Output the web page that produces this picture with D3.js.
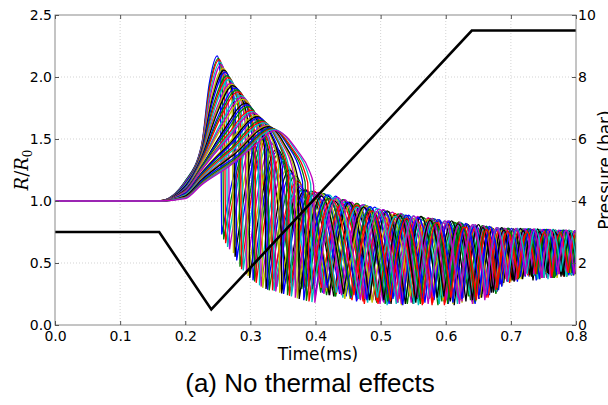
<!DOCTYPE html>
<html>
<head>
<meta charset="utf-8">
<script src="https://cdn.jsdelivr.net/npm/d3@7"></script>
<style>
  body { margin: 0; background: #fff; }
  svg { display: block; }
</style>
</head>
<body>
<svg id="chart"></svg>
<script>
// tick values
const xTicks = [0, 0.1, 0.2, 0.3, 0.4, 0.5, 0.6, 0.7, 0.8];
const radiusTicks = [0, 0.5, 1.0, 1.5, 2.0, 2.5];
const pressureTicks = [0, 2, 4, 6, 8, 10];

// matplotlib old colour cycle b g r c m y k
const lineColors = ['#0000ff', '#008000', '#ff0000', '#00bfbf', '#bf00bf', '#bfbf00', '#000000'];

// imposed pressure (bar) vs time (ms)
const pressure = [[0, 3], [0.16, 3], [0.24, 0.5], [0.64, 9.5], [0.8, 9.5]];

// R/R0 vs time (ms), one list per bubble (top of the hump first)
const radiusCurves = [
  [[0,1],[.16,1],[.2,1.16],[.225,1.45],[.237,1.95],[.249,2.17],[.2525,2.1],[.254,1.9],[.256,.73],[.296,1.48],[.336,.37],[.374,1.11],[.411,.26],[.443,1.01],[.475,.21],[.504,.93],[.532,.19],[.557,.87],[.582,.2],[.605,.84],[.627,.22],[.647,.80],[.667,.24],[.684,.78],[.70,.37],[.714,.775],[.728,.39],[.741,.77],[.753,.41],[.766,.765],[.778,.42],[.79,.76],[.803,.43]],
  [[0,1],[.16,1],[.2,1.16],[.225,1.44],[.238,1.94],[.251,2.15],[.255,2.08],[.257,1.88],[.259,.69],[.30,1.5],[.341,.35],[.379,1.09],[.417,.24],[.45,.99],[.483,.2],[.512,.915],[.541,.17],[.566,.865],[.592,.23],[.615,.825],[.638,.2],[.658,.79],[.679,.27],[.696,.775],[.713,.39],[.727,.77],[.742,.41],[.754,.765],[.767,.38],[.78,.76],[.793,.42],[.806,.755],[.819,.4]],
  [[0,1],[.16,1],[.2,1.15],[.225,1.44],[.238,1.92],[.252,2.14],[.257,2.07],[.26,1.86],[.262,.66],[.301,1.5],[.340,.33],[.377,1.08],[.413,.28],[.444,.97],[.475,.17],[.503,.90],[.53,.23],[.555,.85],[.579,.16],[.601,.815],[.623,.25],[.643,.785],[.662,.22],[.678,.76],[.694,.36],[.708,.755],[.721,.40],[.733,.75],[.745,.38],[.757,.745],[.769,.42],[.781,.74],[.793,.40],[.805,.74],[.817,.43]],
  [[0,1],[.16,1],[.2,1.15],[.225,1.43],[.239,1.90],[.2535,2.12],[.2595,2.045],[.263,1.84],[.265,.63],[.303,1.52],[.341,.31],[.377,1.08],[.412,.27],[.443,.99],[.473,.22],[.50,.91],[.527,.18],[.551,.86],[.575,.21],[.597,.825],[.618,.17],[.637,.795],[.656,.25],[.672,.77],[.687,.33],[.70,.765],[.714,.39],[.727,.755],[.741,.42],[.753,.75],[.765,.39],[.777,.745],[.789,.42],[.801,.74],[.813,.40]],
  [[0,1],[.16,1],[.2,1.15],[.225,1.42],[.24,1.88],[.255,2.10],[.2615,2.02],[.266,1.82],[.268,.61],[.309,1.53],[.350,.35],[.386,1.09],[.422,.24],[.455,.99],[.488,.20],[.518,.91],[.547,.18],[.573,.865],[.599,.21],[.622,.83],[.645,.19],[.662,.795],[.679,.27],[.696,.78],[.713,.38],[.728,.775],[.742,.41],[.755,.77],[.768,.40],[.781,.765],[.794,.43],[.807,.76],[.82,.42]],
  [[0,1],[.16,1],[.2,1.14],[.225,1.41],[.241,1.85],[.258,2.07],[.266,1.99],[.272,1.78],[.274,.58],[.312,1.54],[.350,.30],[.384,1.04],[.417,.27],[.448,.95],[.478,.22],[.505,.88],[.532,.16],[.556,.83],[.58,.24],[.602,.80],[.623,.2],[.642,.77],[.661,.3],[.677,.745],[.692,.37],[.706,.74],[.719,.39],[.733,.735],[.746,.41],[.758,.73],[.77,.40],[.782,.73],[.794,.43],[.806,.725],[.818,.41]],
  [[0,1],[.16,1],[.2,1.14],[.225,1.405],[.242,1.835],[.2595,2.055],[.268,1.975],[.2745,1.76],[.2765,.55],[.317,1.54],[.357,.33],[.392,1.06],[.428,.23],[.46,.96],[.493,.2],[.521,.885],[.55,.17],[.573,.845],[.596,.23],[.618,.815],[.641,.19],[.657,.785],[.674,.3],[.69,.765],[.707,.37],[.721,.76],[.735,.41],[.748,.755],[.761,.39],[.773,.75],[.786,.43],[.798,.745],[.811,.41]],
  [[0,1],[.16,1],[.2,1.14],[.225,1.40],[.243,1.82],[.261,2.04],[.27,1.96],[.277,1.74],[.279,.52],[.321,1.53],[.363,.32],[.4,1.07],[.437,.25],[.471,.965],[.504,.19],[.531,.89],[.557,.21],[.581,.85],[.604,.17],[.625,.81],[.646,.23],[.664,.79],[.681,.28],[.696,.775],[.71,.35],[.725,.77],[.739,.42],[.752,.765],[.765,.39],[.778,.76],[.791,.41],[.804,.755],[.817,.44]],
  [[0,1],[.16,1],[.2,1.13],[.225,1.39],[.244,1.79],[.264,2.01],[.274,1.93],[.282,1.71],[.284,.47],[.323,1.52],[.362,.34],[.397,1.06],[.431,.23],[.463,.96],[.494,.18],[.522,.88],[.55,.22],[.572,.845],[.594,.19],[.616,.81],[.638,.24],[.658,.785],[.677,.25],[.693,.765],[.709,.37],[.723,.755],[.736,.40],[.749,.755],[.761,.42],[.773,.75],[.786,.39],[.798,.745],[.811,.43]],
  [[0,1],[.16,1],[.2,1.13],[.225,1.38],[.245,1.775],[.2655,1.995],[.276,1.91],[.2845,1.69],[.2865,.45],[.325,1.5],[.364,.29],[.398,1.08],[.432,.25],[.463,.98],[.494,.19],[.522,.9],[.549,.22],[.574,.86],[.598,.16],[.62,.83],[.642,.22],[.658,.80],[.674,.28],[.69,.78],[.706,.38],[.72,.775],[.733,.40],[.745,.77],[.757,.43],[.769,.765],[.781,.39],[.793,.76],[.805,.42]],
  [[0,1],[.16,1],[.2,1.13],[.225,1.37],[.246,1.76],[.267,1.98],[.278,1.89],[.287,1.67],[.289,.44],[.33,1.48],[.371,.31],[.407,1.07],[.442,.22],[.475,.97],[.507,.2],[.533,.895],[.558,.16],[.581,.855],[.604,.22],[.625,.82],[.645,.18],[.662,.795],[.679,.29],[.696,.78],[.713,.38],[.728,.775],[.742,.40],[.755,.77],[.767,.43],[.78,.765],[.793,.41],[.806,.76],[.819,.44]],
  [[0,1],[.16,1],[.2,1.12],[.225,1.36],[.247,1.73],[.27,1.95],[.282,1.86],[.292,1.63],[.294,.41],[.333,1.46],[.371,.29],[.405,1.03],[.438,.26],[.469,.935],[.499,.17],[.527,.865],[.554,.21],[.576,.825],[.597,.24],[.619,.795],[.64,.19],[.656,.77],[.672,.31],[.688,.75],[.704,.36],[.718,.745],[.731,.41],[.743,.74],[.755,.38],[.767,.735],[.779,.42],[.791,.73],[.803,.40]],
  [[0,1],[.16,1],[.2,1.12],[.225,1.355],[.248,1.72],[.2715,1.94],[.284,1.85],[.2945,1.62],[.2965,.395],[.338,1.44],[.38,.31],[.416,1.02],[.453,.21],[.483,.93],[.512,.18],[.538,.86],[.564,.23],[.587,.825],[.611,.19],[.632,.79],[.653,.24],[.67,.765],[.687,.32],[.701,.755],[.716,.37],[.73,.75],[.745,.41],[.758,.745],[.771,.38],[.784,.74],[.797,.42],[.81,.74],[.823,.4]],
  [[0,1],[.16,1],[.2,1.12],[.225,1.35],[.249,1.71],[.273,1.93],[.286,1.84],[.297,1.61],[.299,.38],[.341,1.42],[.382,.3],[.419,1.04],[.455,.21],[.485,.945],[.514,.19],[.54,.88],[.566,.23],[.59,.84],[.613,.16],[.634,.81],[.655,.22],[.672,.78],[.689,.34],[.704,.775],[.718,.37],[.733,.77],[.747,.40],[.76,.765],[.773,.43],[.786,.76],[.799,.41],[.812,.755],[.825,.44]],
  [[0,1],[.16,1],[.2,1.11],[.225,1.34],[.251,1.69],[.277,1.91],[.29,1.82],[.302,1.58],[.304,.36],[.341,1.4],[.378,.33],[.413,1.06],[.447,.23],[.479,.96],[.51,.18],[.535,.885],[.56,.2],[.583,.855],[.605,.22],[.625,.82],[.645,.17],[.662,.795],[.678,.27],[.695,.78],[.711,.39],[.725,.775],[.739,.36],[.752,.77],[.764,.42],[.777,.765],[.789,.4],[.802,.76],[.814,.43]],
  [[0,1],[.16,1],[.2,1.10],[.225,1.33],[.252,1.675],[.279,1.895],[.2925,1.80],[.3045,1.56],[.3065,.35],[.343,1.38],[.379,.29],[.412,1.06],[.446,.24],[.477,.965],[.507,.17],[.531,.895],[.555,.22],[.577,.86],[.598,.19],[.62,.83],[.641,.23],[.657,.80],[.673,.29],[.689,.78],[.705,.36],[.718,.775],[.732,.41],[.744,.77],[.756,.39],[.768,.765],[.78,.43],[.792,.76],[.804,.41]],
  [[0,1],[.16,1],[.2,1.10],[.225,1.32],[.253,1.66],[.281,1.88],[.295,1.78],[.307,1.54],[.309,.34],[.347,1.36],[.385,.28],[.421,1.02],[.456,.2],[.485,.925],[.514,.22],[.54,.865],[.565,.17],[.588,.825],[.611,.23],[.631,.79],[.651,.21],[.668,.77],[.684,.33],[.698,.755],[.712,.38],[.726,.75],[.74,.41],[.753,.745],[.765,.39],[.778,.74],[.79,.42],[.803,.74],[.815,.40]],
  [[0,1],[.16,1],[.2,1.10],[.225,1.31],[.255,1.63],[.285,1.85],[.30,1.75],[.312,1.51],[.314,.32],[.351,1.33],[.387,.31],[.421,1.05],[.455,.22],[.483,.955],[.51,.16],[.535,.89],[.559,.24],[.581,.855],[.603,.19],[.623,.825],[.642,.23],[.658,.80],[.674,.29],[.69,.78],[.706,.37],[.72,.775],[.733,.40],[.745,.77],[.757,.37],[.769,.765],[.781,.42],[.793,.76],[.805,.41]],
  [[0,1],[.16,1],[.2,1.095],[.225,1.305],[.256,1.615],[.287,1.835],[.302,1.735],[.3145,1.49],[.3165,.31],[.355,1.3],[.393,.26],[.429,1.02],[.464,.2],[.493,.915],[.522,.23],[.548,.865],[.573,.17],[.596,.825],[.619,.22],[.64,.795],[.66,.2],[.677,.77],[.694,.35],[.709,.765],[.723,.42],[.736,.76],[.749,.38],[.762,.755],[.775,.41],[.788,.75],[.801,.43]],
  [[0,1],[.16,1],[.2,1.09],[.225,1.30],[.257,1.60],[.289,1.82],[.304,1.72],[.317,1.47],[.319,.30],[.358,1.27],[.396,.27],[.432,1.01],[.468,.21],[.498,.915],[.527,.19],[.553,.86],[.579,.23],[.602,.825],[.625,.18],[.646,.79],[.666,.25],[.683,.77],[.70,.35],[.715,.765],[.729,.39],[.742,.76],[.755,.42],[.768,.755],[.781,.40],[.794,.75],[.807,.43]],
  [[0,1],[.16,1],[.2,1.09],[.225,1.28],[.259,1.57],[.293,1.79],[.308,1.68],[.322,1.43],[.324,.29],[.36,1.25],[.395,.29],[.429,1.0],[.462,.24],[.489,.91],[.516,.17],[.54,.855],[.564,.21],[.586,.815],[.607,.19],[.626,.79],[.645,.24],[.661,.765],[.676,.28],[.692,.75],[.707,.38],[.721,.74],[.734,.36],[.746,.74],[.758,.41],[.77,.735],[.782,.39],[.794,.73],[.806,.42]],
  [[0,1],[.16,1],[.2,1.085],[.225,1.275],[.26,1.555],[.295,1.775],[.3105,1.665],[.3245,1.415],[.3265,.285],[.363,1.22],[.40,.24],[.431,1.04],[.463,.19],[.491,.95],[.519,.21],[.543,.885],[.568,.18],[.59,.85],[.612,.23],[.631,.82],[.651,.21],[.667,.795],[.683,.33],[.697,.78],[.71,.38],[.723,.775],[.737,.41],[.75,.77],[.762,.38],[.774,.765],[.786,.43],[.798,.76],[.81,.41]],
  [[0,1],[.16,1],[.2,1.08],[.225,1.27],[.261,1.54],[.297,1.76],[.313,1.65],[.327,1.40],[.329,.28],[.369,1.2],[.408,.26],[.442,1.01],[.475,.2],[.505,.925],[.535,.22],[.562,.875],[.588,.16],[.612,.83],[.635,.23],[.656,.80],[.677,.26],[.695,.78],[.712,.39],[.727,.775],[.741,.37],[.754,.77],[.767,.42],[.78,.765],[.793,.40],[.806,.76],[.819,.44]],
  [[0,1],[.16,1],[.2,1.08],[.225,1.26],[.263,1.52],[.301,1.73],[.317,1.62],[.332,1.36],[.334,.28],[.372,1.16],[.409,.3],[.441,.98],[.473,.19],[.502,.90],[.53,.21],[.555,.855],[.58,.18],[.603,.815],[.625,.24],[.645,.78],[.665,.22],[.682,.76],[.698,.34],[.712,.755],[.726,.40],[.739,.75],[.751,.38],[.764,.745],[.776,.43],[.789,.74],[.801,.41]],
  [[0,1],[.16,1],[.2,1.075],[.225,1.255],[.264,1.51],[.303,1.72],[.3195,1.61],[.3345,1.345],[.3365,.275],[.375,1.13],[.414,.29],[.447,.97],[.48,.18],[.51,.89],[.539,.22],[.565,.845],[.59,.17],[.614,.81],[.637,.24],[.658,.77],[.678,.27],[.695,.755],[.712,.39],[.727,.75],[.741,.37],[.754,.745],[.767,.42],[.78,.745],[.793,.40],[.806,.74],[.819,.43]],
  [[0,1],[.16,1],[.2,1.07],[.225,1.25],[.265,1.50],[.305,1.71],[.322,1.60],[.337,1.33],[.339,.27],[.376,1.12],[.413,.25],[.445,1.01],[.476,.21],[.504,.93],[.532,.17],[.557,.875],[.581,.22],[.603,.84],[.625,.19],[.645,.81],[.664,.25],[.68,.785],[.696,.36],[.71,.78],[.723,.42],[.736,.775],[.748,.39],[.76,.77],[.773,.41],[.785,.765],[.798,.44]],
  [[0,1],[.16,1],[.2,1.06],[.225,1.23],[.267,1.47],[.309,1.69],[.327,1.57],[.343,1.30],[.345,.26],[.384,1.07],[.422,.28],[.455,.97],[.487,.18],[.516,.89],[.545,.23],[.571,.85],[.596,.2],[.619,.815],[.642,.17],[.659,.785],[.676,.3],[.693,.765],[.71,.37],[.725,.76],[.739,.41],[.752,.755],[.765,.38],[.778,.75],[.791,.42],[.804,.745],[.817,.4]],
  [[0,1],[.16,1],[.2,1.06],[.225,1.225],[.268,1.46],[.311,1.68],[.3295,1.56],[.346,1.29],[.348,.255],[.384,1.09],[.421,.24],[.452,.99],[.483,.2],[.51,.92],[.538,.17],[.562,.875],[.587,.22],[.609,.84],[.631,.19],[.65,.81],[.67,.26],[.686,.785],[.702,.36],[.715,.78],[.729,.40],[.741,.775],[.753,.43],[.765,.77],[.777,.39],[.789,.765],[.801,.42]],
  [[0,1],[.16,1],[.2,1.06],[.225,1.22],[.269,1.45],[.313,1.67],[.332,1.55],[.349,1.28],[.351,.25],[.385,1.08],[.418,.3],[.449,.99],[.479,.2],[.507,.915],[.534,.16],[.558,.865],[.582,.23],[.604,.83],[.625,.21],[.644,.80],[.663,.24],[.679,.775],[.695,.35],[.709,.77],[.722,.39],[.734,.765],[.746,.43],[.758,.76],[.77,.40],[.782,.76],[.794,.42],[.806,.755],[.818,.44]],
  [[0,1],[.16,1],[.2,1.05],[.225,1.21],[.271,1.43],[.317,1.65],[.337,1.53],[.355,1.25],[.357,.24],[.394,1.08],[.43,.23],[.464,.98],[.497,.19],[.527,.895],[.556,.21],[.58,.86],[.603,.17],[.624,.82],[.645,.23],[.662,.795],[.679,.28],[.696,.78],[.713,.38],[.728,.775],[.742,.41],[.755,.77],[.768,.39],[.781,.765],[.794,.42],[.807,.76],[.82,.4]],
  [[0,1],[.16,1],[.2,1.05],[.225,1.20],[.272,1.42],[.319,1.64],[.3395,1.515],[.358,1.235],[.36,.235],[.395,1.06],[.431,.27],[.463,.965],[.496,.17],[.525,.88],[.553,.21],[.576,.845],[.599,.18],[.621,.81],[.644,.23],[.66,.78],[.677,.28],[.694,.765],[.71,.37],[.724,.76],[.738,.41],[.751,.755],[.764,.38],[.776,.75],[.789,.42],[.801,.745],[.814,.40]],
  [[0,1],[.16,1],[.2,1.05],[.225,1.19],[.273,1.41],[.321,1.63],[.342,1.50],[.361,1.22],[.363,.23],[.398,1.05],[.432,.26],[.464,.95],[.495,.22],[.523,.875],[.551,.17],[.574,.835],[.596,.22],[.619,.805],[.641,.19],[.658,.775],[.674,.27],[.691,.755],[.707,.37],[.721,.75],[.735,.40],[.748,.745],[.76,.42],[.772,.745],[.785,.39],[.797,.74],[.81,.43]],
  [[0,1],[.16,1],[.2,1.04],[.225,1.18],[.275,1.39],[.325,1.61],[.347,1.48],[.367,1.20],[.369,.22],[.405,1.07],[.44,.24],[.473,.97],[.505,.18],[.531,.90],[.556,.22],[.579,.86],[.601,.2],[.621,.825],[.641,.17],[.658,.80],[.674,.29],[.691,.78],[.707,.36],[.721,.775],[.735,.41],[.748,.77],[.761,.38],[.773,.765],[.786,.43],[.799,.76],[.811,.41]],
  [[0,1],[.16,1],[.2,1.04],[.225,1.175],[.2755,1.385],[.3265,1.605],[.349,1.475],[.37,1.19],[.372,.215],[.408,1.065],[.445,.21],[.478,.96],[.512,.19],[.538,.885],[.564,.23],[.587,.85],[.611,.17],[.632,.815],[.653,.22],[.67,.79],[.687,.32],[.701,.78],[.716,.39],[.73,.775],[.745,.37],[.758,.77],[.771,.42],[.784,.765],[.797,.40],[.81,.76],[.823,.43]],
  [[0,1],[.16,1],[.2,1.04],[.225,1.17],[.276,1.38],[.328,1.60],[.351,1.47],[.373,1.18],[.375,.21],[.409,1.04],[.443,.25],[.474,.95],[.505,.2],[.53,.88],[.554,.18],[.576,.845],[.597,.23],[.619,.815],[.641,.2],[.657,.785],[.673,.26],[.689,.765],[.705,.35],[.719,.76],[.732,.39],[.744,.755],[.756,.42],[.768,.75],[.78,.40],[.792,.745],[.804,.43]],
  [[0,1],[.16,1],[.2,1.03],[.225,1.16],[.278,1.36],[.331,1.59],[.356,1.46],[.38,1.16],[.382,.20],[.418,1.05],[.454,.22],[.484,.955],[.513,.17],[.539,.885],[.565,.21],[.588,.85],[.611,.18],[.632,.815],[.652,.24],[.669,.79],[.686,.31],[.701,.78],[.715,.39],[.73,.775],[.744,.37],[.757,.77],[.77,.42],[.783,.765],[.796,.40],[.809,.76],[.822,.43]],
  [[0,1],[.16,1],[.2,1.03],[.225,1.15],[.279,1.35],[.333,1.585],[.359,1.45],[.384,1.155],[.386,.195],[.42,1.02],[.455,.23],[.483,.93],[.511,.19],[.536,.86],[.561,.17],[.583,.825],[.606,.22],[.626,.795],[.646,.19],[.662,.77],[.679,.29],[.695,.755],[.712,.37],[.726,.75],[.74,.41],[.752,.745],[.765,.38],[.777,.745],[.79,.42],[.802,.74],[.815,.40]],
  [[0,1],[.16,1],[.2,1.03],[.225,1.14],[.28,1.34],[.335,1.58],[.362,1.44],[.388,1.15],[.39,.19],[.425,1.01],[.459,.24],[.487,.92],[.515,.19],[.54,.86],[.564,.16],[.586,.825],[.608,.22],[.628,.79],[.647,.2],[.663,.77],[.679,.3],[.695,.755],[.711,.38],[.725,.75],[.738,.41],[.751,.745],[.763,.39],[.775,.745],[.788,.42],[.80,.74],[.813,.40]],
  [[0,1],[.16,1],[.2,1.025],[.225,1.135],[.28,1.335],[.3365,1.575],[.366,1.435],[.3925,1.14],[.3945,.185],[.43,1.03],[.466,.21],[.495,.94],[.524,.17],[.55,.88],[.575,.23],[.598,.84],[.621,.2],[.642,.81],[.662,.25],[.679,.785],[.696,.35],[.71,.78],[.725,.41],[.738,.775],[.751,.38],[.764,.77],[.777,.43],[.79,.765],[.803,.41]],
  [[0,1],[.16,1],[.2,1.02],[.225,1.13],[.27,1.29],[.307,1.45],[.338,1.57],[.373,1.40],[.39,1.25],[.397,1.13],[.399,.18],[.434,1.03],[.469,.2],[.498,.935],[.526,.18],[.551,.88],[.576,.22],[.599,.84],[.621,.17],[.641,.81],[.661,.23],[.678,.785],[.694,.36],[.708,.78],[.722,.40],[.735,.775],[.747,.38],[.76,.77],[.772,.43],[.785,.765],[.797,.41],[.81,.76],[.822,.44]]
];

const totalWidth = 608;
const totalHeight = 405;
const plot = { left: 55, right: 576, top: 15, bottom: 325 };

const svg = d3.select('#chart')
  .attr('width', totalWidth)
  .attr('height', totalHeight)
  .style('font-family', 'DejaVu Sans');

const xScale = d3.scaleLinear().domain([0, 0.8]).range([plot.left, plot.right]);
const rScale = d3.scaleLinear().domain([0, 2.5]).range([plot.bottom, plot.top]);
const pScale = d3.scaleLinear().domain([0, 10]).range([plot.bottom, plot.top]);

// dotted grid
const grid = svg.append('g')
  .attr('stroke', '#c8c8c8')
  .attr('stroke-width', 0.8)
  .attr('stroke-dasharray', '1,2');
grid.selectAll('.gx')
  .data(xTicks.slice(1, -1))
  .enter().append('line')
  .attr('x1', d => xScale(d)).attr('x2', d => xScale(d))
  .attr('y1', plot.top).attr('y2', plot.bottom);
grid.selectAll('.gy')
  .data(radiusTicks.slice(1, -1))
  .enter().append('line')
  .attr('x1', plot.left).attr('x2', plot.right)
  .attr('y1', d => rScale(d)).attr('y2', d => rScale(d));

svg.append('clipPath').attr('id', 'plotClip')
  .append('rect')
  .attr('x', plot.left).attr('y', plot.top)
  .attr('width', plot.right - plot.left)
  .attr('height', plot.bottom - plot.top);

// split a series at its minima so the collapses stay sharp
function splitAtMinima(pts) {
  const segs = [];
  let cur = [pts[0]];
  for (let i = 1; i < pts.length; i++) {
    cur.push(pts[i]);
    if (i < pts.length - 1 && pts[i][1] < pts[i - 1][1] && pts[i][1] < pts[i + 1][1]) {
      segs.push(cur);
      cur = [pts[i]];
    }
  }
  segs.push(cur);
  return segs;
}

const radiusLine = d3.line()
  .x(d => xScale(d[0]))
  .y(d => rScale(d[1]))
  .curve(d3.curveMonotoneX);

const curvesG = svg.append('g').attr('clip-path', 'url(#plotClip)');

curvesG.selectAll('path.bubble')
  .data(radiusCurves)
  .enter().append('path')
  .attr('class', 'bubble')
  .attr('d', d => splitAtMinima(d).map(s => radiusLine(s)).join(''))
  .attr('fill', 'none')
  .attr('stroke', (d, i) => lineColors[i % lineColors.length])
  .attr('stroke-width', 1.3);

const pressureLine = d3.line()
  .x(d => xScale(d[0]))
  .y(d => pScale(d[1]));

curvesG.append('path')
  .datum(pressure)
  .attr('d', pressureLine)
  .attr('fill', 'none')
  .attr('stroke', '#000')
  .attr('stroke-width', 2.6);

// frame
svg.append('rect')
  .attr('x', plot.left).attr('y', plot.top)
  .attr('width', plot.right - plot.left)
  .attr('height', plot.bottom - plot.top)
  .attr('fill', 'none')
  .attr('stroke', '#8a8a8a')
  .attr('stroke-width', 1);

function styleAxis(g) {
  g.select('.domain').remove();
  g.selectAll('.tick line').attr('stroke', '#555');
  g.selectAll('.tick text')
    .attr('fill', '#000')
    .style('font-family', 'DejaVu Sans')
    .style('font-size', '14px');
}

svg.append('g')
  .attr('transform', `translate(0,${plot.bottom})`)
  .call(d3.axisBottom(xScale).tickValues(xTicks).tickFormat(d3.format('.1f')).tickSize(-4).tickPadding(6))
  .call(styleAxis);

svg.append('g')
  .attr('transform', `translate(0,${plot.top})`)
  .call(d3.axisTop(xScale).tickValues(xTicks).tickFormat('').tickSize(-4))
  .call(styleAxis);

svg.append('g')
  .attr('transform', `translate(${plot.left},0)`)
  .call(d3.axisLeft(rScale).tickValues(radiusTicks).tickFormat(d3.format('.1f')).tickSize(-4).tickPadding(3))
  .call(styleAxis);

svg.append('g')
  .attr('transform', `translate(${plot.right},0)`)
  .call(d3.axisRight(pScale).tickValues(pressureTicks).tickFormat(d3.format('d')).tickSize(-4).tickPadding(2))
  .call(styleAxis);

// axis labels
svg.append('text')
  .attr('x', 318)
  .attr('y', 360)
  .attr('text-anchor', 'middle')
  .style('font-family', 'DejaVu Sans')
  .style('font-size', '17px')
  .text('Time(ms)');

const rLabel = svg.append('text')
  .attr('transform', `translate(28,${(plot.top + plot.bottom) / 2}) rotate(-90)`)
  .attr('text-anchor', 'middle')
  .style('font-family', 'DejaVu Serif')
  .style('font-size', '18px');
rLabel.append('tspan').style('font-style', 'italic').text('R');
rLabel.append('tspan').text('/');
rLabel.append('tspan').style('font-style', 'italic').text('R');
rLabel.append('tspan').attr('dy', 4).style('font-size', '12px').text('0');

svg.append('text')
  .attr('transform', `translate(611,${(plot.top + plot.bottom) / 2}) rotate(-90)`)
  .attr('text-anchor', 'middle')
  .style('font-family', 'DejaVu Sans')
  .style('font-size', '17px')
  .text('Pressure (bar)');

// caption
svg.append('text')
  .attr('x', 310)
  .attr('y', 392)
  .attr('text-anchor', 'middle')
  .style('font-family', 'Liberation Sans')
  .style('font-size', '26px')
  .text('(a) No thermal effects');
</script>
</body>
</html>
